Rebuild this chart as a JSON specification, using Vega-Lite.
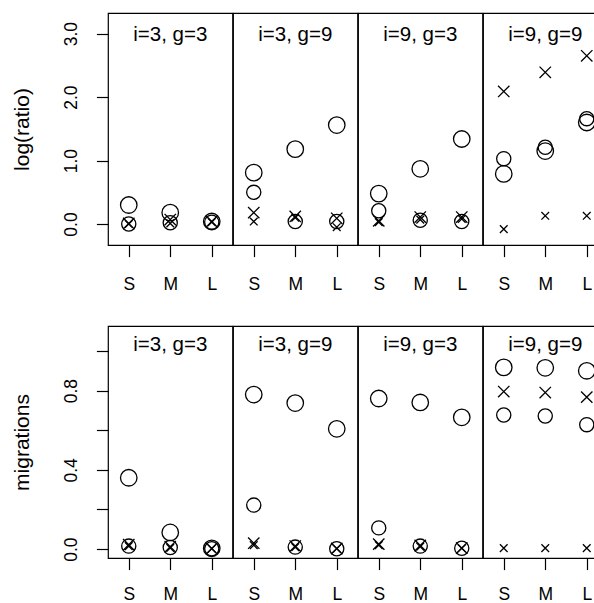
{
  "$schema": "https://vega.github.io/schema/vega-lite/v6.json",
  "padding": {"left": 11, "top": 12, "right": 0, "bottom": 0},
  "spacing": 32,
  "datasets": {
    "logratio": [
      {"panel": "i=3, g=3", "size": "S", "series": "s1", "value": 0.30},
      {"panel": "i=3, g=3", "size": "S", "series": "s2", "value": 0.00},
      {"panel": "i=3, g=3", "size": "S", "series": "s3", "value": 0.01},
      {"panel": "i=3, g=3", "size": "S", "series": "s4", "value": 0.00},
      {"panel": "i=3, g=3", "size": "M", "series": "s1", "value": 0.18},
      {"panel": "i=3, g=3", "size": "M", "series": "s2", "value": 0.02},
      {"panel": "i=3, g=3", "size": "M", "series": "s3", "value": 0.07},
      {"panel": "i=3, g=3", "size": "M", "series": "s4", "value": 0.01},
      {"panel": "i=3, g=3", "size": "L", "series": "s1", "value": 0.04},
      {"panel": "i=3, g=3", "size": "L", "series": "s2", "value": 0.03},
      {"panel": "i=3, g=3", "size": "L", "series": "s3", "value": 0.04},
      {"panel": "i=3, g=3", "size": "L", "series": "s4", "value": 0.03},
      {"panel": "i=3, g=9", "size": "S", "series": "s1", "value": 0.81},
      {"panel": "i=3, g=9", "size": "S", "series": "s2", "value": 0.50},
      {"panel": "i=3, g=9", "size": "S", "series": "s3", "value": 0.18},
      {"panel": "i=3, g=9", "size": "S", "series": "s4", "value": 0.04},
      {"panel": "i=3, g=9", "size": "M", "series": "s1", "value": 1.18},
      {"panel": "i=3, g=9", "size": "M", "series": "s2", "value": 0.04},
      {"panel": "i=3, g=9", "size": "M", "series": "s3", "value": 0.12},
      {"panel": "i=3, g=9", "size": "M", "series": "s4", "value": 0.10},
      {"panel": "i=3, g=9", "size": "L", "series": "s1", "value": 1.56},
      {"panel": "i=3, g=9", "size": "L", "series": "s2", "value": 0.04},
      {"panel": "i=3, g=9", "size": "L", "series": "s3", "value": 0.09},
      {"panel": "i=3, g=9", "size": "L", "series": "s4", "value": -0.05},
      {"panel": "i=9, g=3", "size": "S", "series": "s1", "value": 0.48},
      {"panel": "i=9, g=3", "size": "S", "series": "s2", "value": 0.21},
      {"panel": "i=9, g=3", "size": "S", "series": "s3", "value": 0.05},
      {"panel": "i=9, g=3", "size": "S", "series": "s4", "value": 0.03},
      {"panel": "i=9, g=3", "size": "M", "series": "s1", "value": 0.87},
      {"panel": "i=9, g=3", "size": "M", "series": "s2", "value": 0.06},
      {"panel": "i=9, g=3", "size": "M", "series": "s3", "value": 0.11},
      {"panel": "i=9, g=3", "size": "M", "series": "s4", "value": 0.07},
      {"panel": "i=9, g=3", "size": "L", "series": "s1", "value": 1.34},
      {"panel": "i=9, g=3", "size": "L", "series": "s2", "value": 0.04},
      {"panel": "i=9, g=3", "size": "L", "series": "s3", "value": 0.11},
      {"panel": "i=9, g=3", "size": "L", "series": "s4", "value": 0.08},
      {"panel": "i=9, g=9", "size": "S", "series": "s1", "value": 0.79},
      {"panel": "i=9, g=9", "size": "S", "series": "s2", "value": 1.03},
      {"panel": "i=9, g=9", "size": "S", "series": "s3", "value": 2.09},
      {"panel": "i=9, g=9", "size": "S", "series": "s4", "value": -0.08},
      {"panel": "i=9, g=9", "size": "M", "series": "s1", "value": 1.15},
      {"panel": "i=9, g=9", "size": "M", "series": "s2", "value": 1.21},
      {"panel": "i=9, g=9", "size": "M", "series": "s3", "value": 2.39},
      {"panel": "i=9, g=9", "size": "M", "series": "s4", "value": 0.13},
      {"panel": "i=9, g=9", "size": "L", "series": "s1", "value": 1.60},
      {"panel": "i=9, g=9", "size": "L", "series": "s2", "value": 1.66},
      {"panel": "i=9, g=9", "size": "L", "series": "s3", "value": 2.65},
      {"panel": "i=9, g=9", "size": "L", "series": "s4", "value": 0.13}
    ],
    "migrations": [
      {"panel": "i=3, g=3", "size": "S", "series": "s1", "value": 0.360},
      {"panel": "i=3, g=3", "size": "S", "series": "s2", "value": 0.015},
      {"panel": "i=3, g=3", "size": "S", "series": "s3", "value": 0.022},
      {"panel": "i=3, g=3", "size": "S", "series": "s4", "value": 0.015},
      {"panel": "i=3, g=3", "size": "M", "series": "s1", "value": 0.084},
      {"panel": "i=3, g=3", "size": "M", "series": "s2", "value": 0.008},
      {"panel": "i=3, g=3", "size": "M", "series": "s3", "value": 0.012},
      {"panel": "i=3, g=3", "size": "M", "series": "s4", "value": 0.006},
      {"panel": "i=3, g=3", "size": "L", "series": "s1", "value": 0.004},
      {"panel": "i=3, g=3", "size": "L", "series": "s2", "value": 0.002},
      {"panel": "i=3, g=3", "size": "L", "series": "s3", "value": 0.003},
      {"panel": "i=3, g=3", "size": "L", "series": "s4", "value": 0.002},
      {"panel": "i=3, g=9", "size": "S", "series": "s1", "value": 0.780},
      {"panel": "i=3, g=9", "size": "S", "series": "s2", "value": 0.222},
      {"panel": "i=3, g=9", "size": "S", "series": "s3", "value": 0.030},
      {"panel": "i=3, g=9", "size": "S", "series": "s4", "value": 0.020},
      {"panel": "i=3, g=9", "size": "M", "series": "s1", "value": 0.737},
      {"panel": "i=3, g=9", "size": "M", "series": "s2", "value": 0.010},
      {"panel": "i=3, g=9", "size": "M", "series": "s3", "value": 0.015},
      {"panel": "i=3, g=9", "size": "M", "series": "s4", "value": 0.010},
      {"panel": "i=3, g=9", "size": "L", "series": "s1", "value": 0.607},
      {"panel": "i=3, g=9", "size": "L", "series": "s2", "value": 0.002},
      {"panel": "i=3, g=9", "size": "L", "series": "s3", "value": 0.003},
      {"panel": "i=3, g=9", "size": "L", "series": "s4", "value": 0.002},
      {"panel": "i=9, g=3", "size": "S", "series": "s1", "value": 0.760},
      {"panel": "i=9, g=3", "size": "S", "series": "s2", "value": 0.107},
      {"panel": "i=9, g=3", "size": "S", "series": "s3", "value": 0.025},
      {"panel": "i=9, g=3", "size": "S", "series": "s4", "value": 0.020},
      {"panel": "i=9, g=3", "size": "M", "series": "s1", "value": 0.740},
      {"panel": "i=9, g=3", "size": "M", "series": "s2", "value": 0.015},
      {"panel": "i=9, g=3", "size": "M", "series": "s3", "value": 0.018},
      {"panel": "i=9, g=3", "size": "M", "series": "s4", "value": 0.012},
      {"panel": "i=9, g=3", "size": "L", "series": "s1", "value": 0.665},
      {"panel": "i=9, g=3", "size": "L", "series": "s2", "value": 0.004},
      {"panel": "i=9, g=3", "size": "L", "series": "s3", "value": 0.005},
      {"panel": "i=9, g=3", "size": "L", "series": "s4", "value": 0.004},
      {"panel": "i=9, g=9", "size": "S", "series": "s1", "value": 0.917},
      {"panel": "i=9, g=9", "size": "S", "series": "s2", "value": 0.677},
      {"panel": "i=9, g=9", "size": "S", "series": "s3", "value": 0.795},
      {"panel": "i=9, g=9", "size": "S", "series": "s4", "value": 0.005},
      {"panel": "i=9, g=9", "size": "M", "series": "s1", "value": 0.915},
      {"panel": "i=9, g=9", "size": "M", "series": "s2", "value": 0.672},
      {"panel": "i=9, g=9", "size": "M", "series": "s3", "value": 0.790},
      {"panel": "i=9, g=9", "size": "M", "series": "s4", "value": 0.005},
      {"panel": "i=9, g=9", "size": "L", "series": "s1", "value": 0.900},
      {"panel": "i=9, g=9", "size": "L", "series": "s2", "value": 0.628},
      {"panel": "i=9, g=9", "size": "L", "series": "s3", "value": 0.767},
      {"panel": "i=9, g=9", "size": "L", "series": "s4", "value": 0.005}
    ]
  },
  "config": {
    "font": "Liberation Sans",
    "view": {"stroke": "black", "strokeWidth": 1.2},
    "axis": {
      "grid": false, "domain": false,
      "tickColor": "black", "tickWidth": 1.2, "tickSize": 11.6,
      "labelColor": "black", "labelFontSize": 17.5, "labelFont": "Liberation Sans",
      "titleColor": "black", "titleFontSize": 21, "titleFontWeight": "normal", "titleFont": "Liberation Sans",
      "labelOverlap": false, "labelFlush": false
    },
    "axisX": {"labelAngle": 0, "labelPadding": 18.5},
    "axisY": {"labelAngle": 270, "labelAlign": "center", "labelBaseline": "bottom", "labelPadding": 16, "titlePadding": 30}
  },
  "vconcat": [
    {
      "data": {"name": "logratio"},
      "bounds": "flush",
      "spacing": 0,
      "facet": {"column": {"field": "panel", "type": "nominal", "header": null, "sort": ["i=3, g=3", "i=3, g=9", "i=9, g=3", "i=9, g=9"]}},
      "spec": {
        "width": 124.5,
        "height": 232,
        "layer": [
          {
            "mark": {"type": "point", "filled": false, "color": "black", "strokeWidth": 1.3, "opacity": 1},
            "encoding": {
              "x": {"field": "size", "type": "nominal", "sort": ["S", "M", "L"], "scale": {"padding": 0.5}, "axis": {"title": null}},
              "y": {"field": "value", "type": "quantitative", "scale": {"domain": [-0.33, 3.325], "nice": false, "zero": false},
                    "axis": {"title": "log(ratio)", "values": [0, 0.5, 1, 1.5, 2, 2.5, 3], "labelExpr": "datum.value % 1 == 0 ? format(datum.value, '.1f') : ''"}},
              "shape": {"field": "series", "type": "nominal", "legend": null,
                        "scale": {"domain": ["s1", "s2", "s3", "s4"], "range": ["circle", "circle", "M-1,-1L1,1M-1,1L1,-1", "M-1,-1L1,1M-1,1L1,-1"]}},
              "size": {"field": "series", "type": "ordinal", "legend": null,
                       "scale": {"domain": ["s1", "s2", "s3", "s4"], "range": [272, 59, 289, 72]}}
            }
          },
          {
            "transform": [{"filter": "datum.size == 'M' && datum.series == 's1'"}],
            "mark": {"type": "text", "fontSize": 20.5, "baseline": "middle", "color": "black", "font": "Liberation Sans"},
            "encoding": {
              "x": {"field": "size", "type": "nominal", "sort": ["S", "M", "L"]},
              "y": {"datum": 2.975},
              "text": {"field": "panel"}
            }
          }
        ]
      }
    },
    {
      "data": {"name": "migrations"},
      "bounds": "flush",
      "spacing": 0,
      "facet": {"column": {"field": "panel", "type": "nominal", "header": null, "sort": ["i=3, g=3", "i=3, g=9", "i=9, g=3", "i=9, g=9"]}},
      "spec": {
        "width": 124.5,
        "height": 232,
        "layer": [
          {
            "mark": {"type": "point", "filled": false, "color": "black", "strokeWidth": 1.3, "opacity": 1},
            "encoding": {
              "x": {"field": "size", "type": "nominal", "sort": ["S", "M", "L"], "scale": {"padding": 0.5}, "axis": {"title": null, "labelPadding": 15.5}},
              "y": {"field": "value", "type": "quantitative", "scale": {"domain": [-0.045, 1.126], "nice": false, "zero": false},
                    "axis": {"title": "migrations", "values": [0, 0.2, 0.4, 0.6, 0.8, 1.0], "labelExpr": "datum.value == 0 || datum.value == 0.4 || datum.value == 0.8 ? format(datum.value, '.1f') : ''"}},
              "shape": {"field": "series", "type": "nominal", "legend": null,
                        "scale": {"domain": ["s1", "s2", "s3", "s4"], "range": ["circle", "circle", "M-1,-1L1,1M-1,1L1,-1", "M-1,-1L1,1M-1,1L1,-1"]}},
              "size": {"field": "series", "type": "ordinal", "legend": null,
                       "scale": {"domain": ["s1", "s2", "s3", "s4"], "range": [272, 59, 289, 72]}}
            }
          },
          {
            "transform": [{"filter": "datum.size == 'M' && datum.series == 's1'"}],
            "mark": {"type": "text", "fontSize": 20.5, "baseline": "middle", "color": "black", "font": "Liberation Sans"},
            "encoding": {
              "x": {"field": "size", "type": "nominal", "sort": ["S", "M", "L"]},
              "y": {"datum": 1.032},
              "text": {"field": "panel"}
            }
          }
        ]
      }
    }
  ]
}
